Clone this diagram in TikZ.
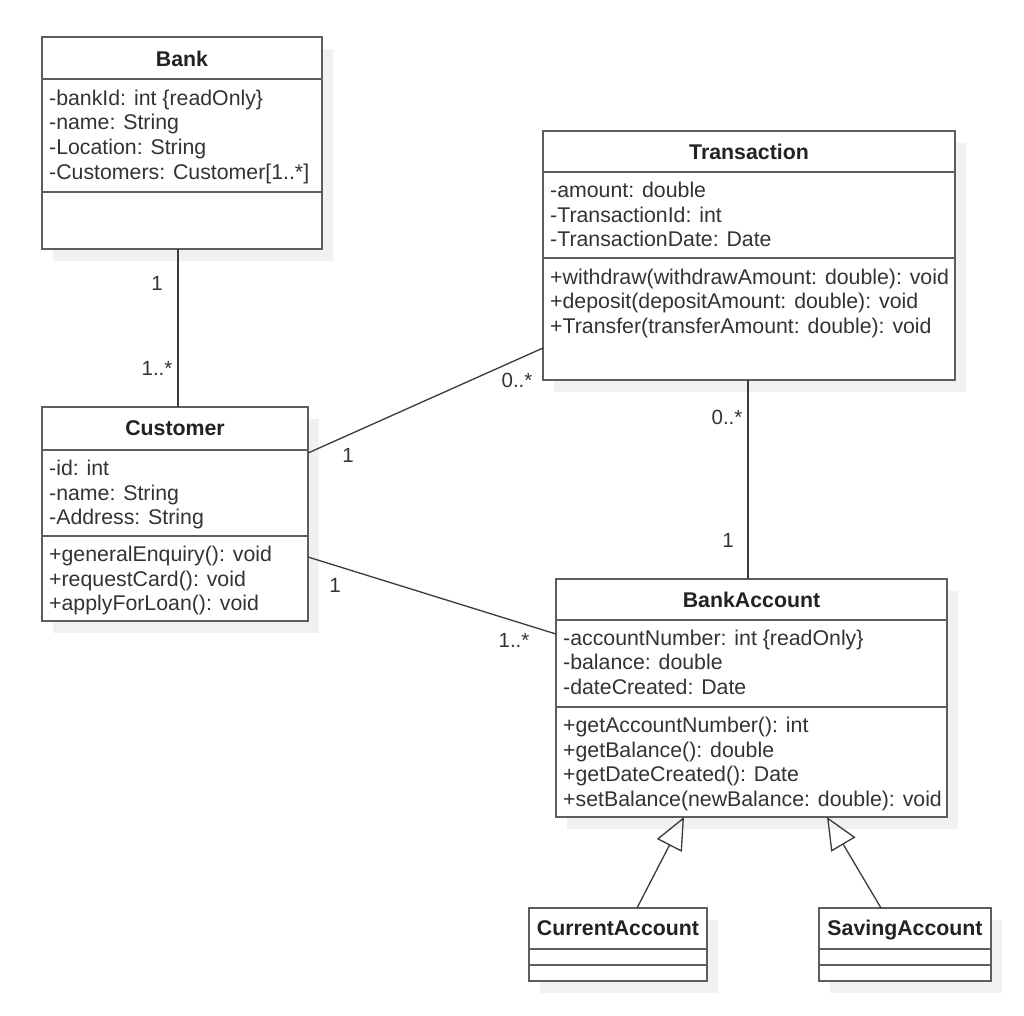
\documentclass[tikz,border=0pt]{standalone}
\usepackage{fontspec}
\setmainfont{Liberation Sans}
\usetikzlibrary{arrows.meta,shadows}
\definecolor{bordc}{HTML}{5E5E5E}
\definecolor{linec}{HTML}{3A3A3A}
\definecolor{txtc}{HTML}{333333}
\definecolor{titc}{HTML}{222222}
\definecolor{shadc}{HTML}{F1F1F1}
\tikzset{
  classbox/.style={draw=bordc, line width=1.6pt, fill=white, anchor=north west,
    inner sep=0pt, outer sep=0pt,
    general shadow={fill=shadc, shadow xshift=11pt, shadow yshift=-12pt}},
  sepline/.style={draw=bordc, line width=1.6pt},
  attr/.style={anchor=base west, inner sep=0pt, text=txtc, font=\fontsize{21.3}{24.7}\selectfont},
  ctitle/.style={anchor=base, inner sep=0pt, text=titc, font=\fontsize{21.3}{24.7}\selectfont\bfseries},
  mult/.style={inner sep=0pt, text=txtc, font=\fontsize{20.5}{24}\selectfont},
  assoc/.style={draw=linec, line width=1.3pt},
  gener/.style={draw=linec, line width=1.3pt, -{Triangle[open, length=32pt, width=28pt]}},
}
\begin{document}
\begin{tikzpicture}[x=1pt, y=-1pt]
\fill[white] (0,0) rectangle (1024,1015);
\useasboundingbox (0,0) rectangle (1024,1015);

% ---------- Bank ----------
\node[classbox, minimum width=280pt, minimum height=212pt] (bank) at (42,37) {};
\draw[sepline] (42,79) -- (322,79);
\draw[sepline] (42,192) -- (322,192);
\node[ctitle] (bankT) at (182,66) {Bank};
\node[attr] (bankA1) at (49,105) {-bankId: int \{readOnly\}};
\node[attr] (bankA2) at (49,129.7) {-name: String};
\node[attr] (bankA3) at (49,154.4) {-Location: String};
\node[attr] (bankA4) at (49,179.1) {-Customers: Customer[1..*]};

% ---------- Transaction ----------
\node[classbox, minimum width=412pt, minimum height=249pt] (trans) at (543,131) {};
\draw[sepline] (543,172) -- (955,172);
\draw[sepline] (543,258) -- (955,258);
\node[ctitle] (transT) at (749,159) {Transaction};
\node[attr] (transA1) at (550,197.5) {-amount: double};
\node[attr] (transA2) at (550,222.2) {-TransactionId: int};
\node[attr] (transA3) at (550,246.9) {-TransactionDate: Date};
\node[attr] (transM1) at (550,284) {+withdraw(withdrawAmount: double): void};
\node[attr] (transM2) at (550,308.7) {+deposit(depositAmount: double): void};
\node[attr] (transM3) at (550,333.4) {+Transfer(transferAmount: double): void};

% ---------- Customer ----------
\node[classbox, minimum width=266pt, minimum height=214pt] (cust) at (42,407) {};
\draw[sepline] (42,450) -- (308,450);
\draw[sepline] (42,536) -- (308,536);
\node[ctitle] (custT) at (175,435) {Customer};
\node[attr] (custA1) at (49,475.5) {-id: int};
\node[attr] (custA2) at (49,500.2) {-name: String};
\node[attr] (custA3) at (49,524.9) {-Address: String};
\node[attr] (custM1) at (49,561.5) {+generalEnquiry(): void};
\node[attr] (custM2) at (49,586.2) {+requestCard(): void};
\node[attr] (custM3) at (49,610.9) {+applyForLoan(): void};

% ---------- BankAccount ----------
\node[classbox, minimum width=391pt, minimum height=238pt] (acc) at (556,579) {};
\draw[sepline] (556,620) -- (947,620);
\draw[sepline] (556,707) -- (947,707);
\node[ctitle] (accT) at (751.5,607) {BankAccount};
\node[attr] (accA1) at (563,645) {-accountNumber: int \{readOnly\}};
\node[attr] (accA2) at (563,669.7) {-balance: double};
\node[attr] (accA3) at (563,694.4) {-dateCreated: Date};
\node[attr] (accM1) at (563,732.5) {+getAccountNumber(): int};
\node[attr] (accM2) at (563,757.2) {+getBalance(): double};
\node[attr] (accM3) at (563,781.9) {+getDateCreated(): Date};
\node[attr] (accM4) at (563,806.6) {+setBalance(newBalance: double): void};

% ---------- CurrentAccount ----------
\node[classbox, minimum width=178pt, minimum height=73pt] (cur) at (529,908) {};
\draw[sepline] (529,949) -- (707,949);
\draw[sepline] (529,965) -- (707,965);
\node[ctitle] (curT) at (618,935) {CurrentAccount};

% ---------- SavingAccount ----------
\node[classbox, minimum width=172pt, minimum height=73pt] (sav) at (819,908) {};
\draw[sepline] (819,949) -- (991,949);
\draw[sepline] (819,965) -- (991,965);
\node[ctitle] (savT) at (905,935) {SavingAccount};

% ---------- Associations ----------
\draw[assoc] ([xshift=-4pt]bank.south) -- ([xshift=3pt]cust.north);
\draw[assoc] ([yshift=-46pt]cust.north east) -- ([yshift=32pt]trans.south west);
\draw[assoc] ([yshift=-150pt]cust.north east) -- ([yshift=-55pt]acc.north west);
\draw[assoc] ([xshift=-1pt]trans.south) -- ([xshift=-3.5pt]acc.north);

% ---------- Generalizations ----------
\draw[gener] ([xshift=19pt]cur.north) -- ([xshift=-67.5pt]acc.south);
\draw[gener] ([xshift=-24pt]sav.north) -- ([xshift=75.5pt]acc.south);

% ---------- Multiplicities ----------
\node[mult] (m1) at (157,283) {1};
\node[mult] (m2) at (157,368) {1..*};
\node[mult] (m3) at (517,380) {0..*};
\node[mult] (m4) at (348,455) {1};
\node[mult] (m5) at (335,585) {1};
\node[mult] (m6) at (514,640) {1..*};
\node[mult] (m7) at (727,417) {0..*};
\node[mult] (m8) at (728,540) {1};
\end{tikzpicture}
\end{document}
